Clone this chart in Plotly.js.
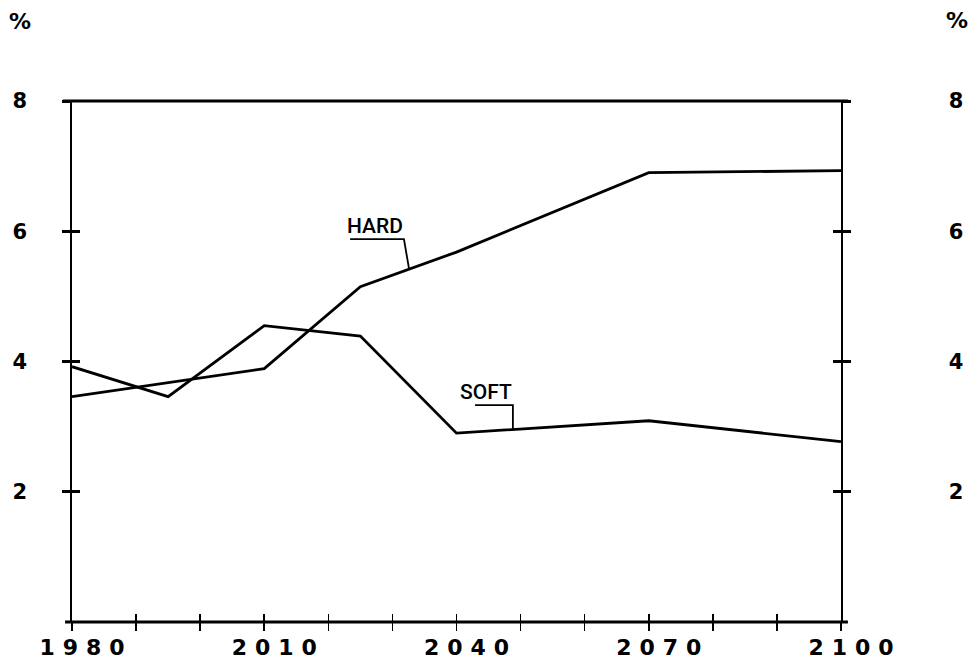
<!DOCTYPE html>
<html>
<head>
<meta charset="utf-8">
<script src="https://cdn.plot.ly/plotly-3.0.1.min.js"></script>
<style>
  html, body { margin: 0; padding: 0; background: #fff; }
  #chart { width: 970px; height: 663px; }
  .xtick text { letter-spacing: 8px; }
</style>
</head>
<body>
<div id="chart"></div>
<script>
// ---- data ----
const hardYears = [1980, 2010, 2025, 2040, 2070, 2100];
const hardValues = [3.46, 3.89, 5.15, 5.68, 6.90, 6.93];

const softYears = [1980, 1995, 2010, 2025, 2040, 2070, 2100];
const softValues = [3.92, 3.46, 4.55, 4.39, 2.90, 3.09, 2.77];

const xTickVals = [1980, 1990, 2000, 2010, 2020, 2030, 2040, 2050, 2060, 2070, 2080, 2090, 2100];
const xTickText = ['1980', '', '', '2010', '', '', '2040', '', '', '2070', '', '', '2100'];
const yTickVals = [2, 4, 6, 8];
const yTickText = ['2', '4', '6', '8'];

const seriesNames = ['HARD', 'SOFT'];
const unitLabel = '%';

// ---- label placement (not data) ----
const hardLabel = {tx: 2027.3, ty: 6.08, u0: 2023.4, u1: 2031.8, uy: 5.88, leaderX: 2032.6};
const softLabel = {tx: 2044.6, ty: 3.53, u0: 2042.9, u1: 2048.8, uy: 3.33, leaderX: 2048.8};

function interp(xs, ys, x) {
  for (let i = 0; i < xs.length - 1; i++) {
    if (x >= xs[i] && x <= xs[i + 1]) {
      const t = (x - xs[i]) / (xs[i + 1] - xs[i]);
      return ys[i] + t * (ys[i + 1] - ys[i]);
    }
  }
  return ys[ys.length - 1];
}

const xRange = [1980, 2100];
const yRange = [0, 8];
const ink = '#000';
const tickFont = {family: 'DejaVu Sans', size: 21, color: ink, weight: 600};
const xTickFont = {family: 'DejaVu Sans', size: 22, color: ink, weight: 600};

const traces = [
  {x: hardYears, y: hardValues, mode: 'lines', name: seriesNames[0],
   line: {color: ink, width: 2.8}, hoverinfo: 'skip'},
  {x: softYears, y: softValues, mode: 'lines', name: seriesNames[1],
   line: {color: ink, width: 2.8}, hoverinfo: 'skip'},
  {x: hardYears, y: hardValues, mode: 'none', xaxis: 'x2', yaxis: 'y', hoverinfo: 'skip'},
  {x: hardYears, y: hardValues, mode: 'none', xaxis: 'x', yaxis: 'y2', hoverinfo: 'skip'},
  {x: hardYears, y: hardValues, mode: 'none', xaxis: 'x', yaxis: 'y3', hoverinfo: 'skip'},
  {x: hardYears, y: hardValues, mode: 'none', xaxis: 'x', yaxis: 'y4', hoverinfo: 'skip'}
];

function leaderPath(lbl, xs, ys) {
  const yEnd = interp(xs, ys, lbl.leaderX);
  return 'M ' + lbl.u0 + ',' + lbl.uy + ' L ' + (lbl.u1) + ',' + lbl.uy +
         ' L ' + lbl.leaderX + ',' + yEnd;
}

const commonX = {range: xRange, tickmode: 'array', tickvals: xTickVals,
  showgrid: false, zeroline: false, fixedrange: true, tickcolor: ink, tickwidth: 1.6, ticklen: 8};
const commonY = {range: yRange, tickmode: 'array', tickvals: yTickVals,
  showgrid: false, zeroline: false, fixedrange: true, tickcolor: ink, tickwidth: 3, ticklen: 8};

const layout = {
  width: 970, height: 663,
  margin: {l: 72, r: 129, t: 101, b: 41, pad: 0},
  paper_bgcolor: '#fff', plot_bgcolor: '#fff',
  showlegend: false,
  xaxis: Object.assign({}, commonX, {ticks: 'outside', ticktext: xTickText,
    tickfont: xTickFont, showline: false, ticklabelshift: 14, ticklabelstandoff: -2}),
  xaxis2: Object.assign({}, commonX, {overlaying: 'x', anchor: 'y', side: 'bottom',
    ticks: 'inside', showticklabels: false, showline: false}),
  yaxis: Object.assign({}, commonY, {ticks: 'outside', ticktext: yTickText,
    tickfont: tickFont, showline: true, linecolor: ink, linewidth: 1.6,
    ticklabelstandoff: 31}),
  yaxis2: Object.assign({}, commonY, {overlaying: 'y', side: 'right', anchor: 'x',
    ticks: 'outside', ticktext: yTickText, tickfont: tickFont,
    showline: true, linecolor: ink, linewidth: 1.6, ticklabelstandoff: 94}),
  yaxis3: Object.assign({}, commonY, {overlaying: 'y', side: 'left', anchor: 'x',
    ticks: 'inside', showticklabels: false, showline: false}),
  yaxis4: Object.assign({}, commonY, {overlaying: 'y', side: 'right', anchor: 'x',
    ticks: 'inside', showticklabels: false, showline: false}),
  shapes: [
    {type: 'line', xref: 'paper', yref: 'paper', x0: -0.012, x1: 1.009, y0: 1, y1: 1,
     line: {color: ink, width: 3.2}},
    {type: 'line', xref: 'paper', yref: 'paper', x0: -0.009, x1: 1.009, y0: 0, y1: 0,
     line: {color: ink, width: 2.8}},
    {type: 'path', xref: 'x', yref: 'y', path: leaderPath(hardLabel, hardYears, hardValues),
     line: {color: ink, width: 1.8}},
    {type: 'path', xref: 'x', yref: 'y', path: leaderPath(softLabel, softYears, softValues),
     line: {color: ink, width: 1.8}}
  ],
  annotations: [
    {x: hardLabel.tx, y: hardLabel.ty, xref: 'x', yref: 'y', text: seriesNames[0], showarrow: false,
     font: {family: 'Roboto', size: 21, color: ink, weight: 500}, xanchor: 'center', yanchor: 'middle'},
    {x: softLabel.tx, y: softLabel.ty, xref: 'x', yref: 'y', text: seriesNames[1], showarrow: false,
     font: {family: 'Roboto', size: 21, color: ink, weight: 500}, xanchor: 'center', yanchor: 'middle'},
    {x: -0.0676, y: 1.153, xref: 'paper', yref: 'paper', text: unitLabel, showarrow: false,
     font: {family: 'DejaVu Sans', size: 22, color: ink, weight: 700}, xanchor: 'center', yanchor: 'middle'},
    {x: 1.1508, y: 1.155, xref: 'paper', yref: 'paper', text: unitLabel, showarrow: false,
     font: {family: 'DejaVu Sans', size: 22, color: ink, weight: 700}, xanchor: 'center', yanchor: 'middle'}
  ]
};

Plotly.newPlot('chart', traces, layout, {displayModeBar: false, staticPlot: true});
</script>
</body>
</html>
